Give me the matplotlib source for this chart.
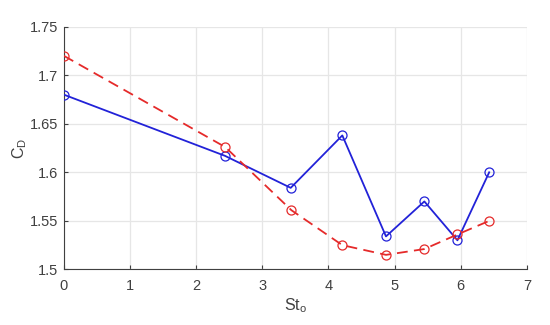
import numpy as np
import matplotlib
matplotlib.use('Agg')
import matplotlib.pyplot as plt
from matplotlib.ticker import FuncFormatter

# blue solid series
st_blue = [0, 2.435, 3.43, 4.21, 4.87, 5.45, 5.95, 6.43]
cd_blue = [1.680, 1.617, 1.584, 1.638, 1.534, 1.570, 1.530, 1.600]

# red dashed series
st_red = [0, 2.44, 3.44, 4.21, 4.87, 5.45, 5.95, 6.43]
cd_red = [1.720, 1.626, 1.561, 1.525, 1.515, 1.521, 1.536, 1.550]

plt.rcParams['font.family'] = ['Liberation Sans', 'DejaVu Sans']

fig = plt.figure(figsize=(5.5, 3.25), dpi=100)
ax = fig.add_axes([0.116, 0.171, 0.842, 0.747])

ax.plot(st_blue, cd_blue, '-o', color='#2222d8', lw=1.3, ms=6.5,
        mfc='none', mew=0.9, zorder=3)
ax.plot(st_red, cd_red, '--o', color='#e52a2a', lw=1.3, ms=6.5,
        mfc='none', mew=0.9, dashes=(6, 3.5), zorder=3)

ax.set_xlim(0, 7)
ax.set_ylim(1.5, 1.75)
ax.set_xticks(np.arange(0, 8, 1))
ax.set_yticks([1.5, 1.55, 1.6, 1.65, 1.7, 1.75])
ax.yaxis.set_major_formatter(FuncFormatter(lambda v, p: '%g' % round(v, 2)))

ax.grid(True, color='#e6e6e6', lw=0.9)
ax.set_axisbelow(True)
for s in ['top', 'right']:
    ax.spines[s].set_visible(False)
for s in ['left', 'bottom']:
    ax.spines[s].set_color('#404040')
    ax.spines[s].set_linewidth(0.8)
ax.tick_params(direction='in', colors='#404040', labelsize=10.5, length=3)
ax.tick_params(axis='x', pad=7)
ax.tick_params(axis='y', pad=4)

ax.set_xlabel('St$_\\mathregular{o}$', color='#404040', fontsize=11.5, labelpad=2)
ax.set_ylabel('C$_\\mathregular{D}$', color='#404040', fontsize=11.5)
ax.yaxis.set_label_coords(-0.075, 0.5)

plt.savefig('out.png', dpi=100)
